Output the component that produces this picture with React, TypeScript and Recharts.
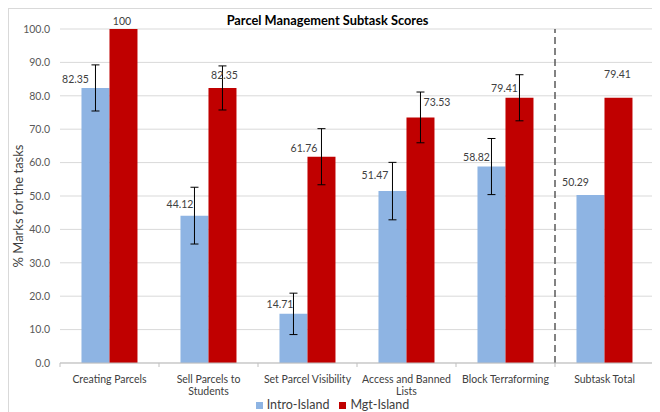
import React from 'react';
import {
  BarChart,
  Bar,
  XAxis,
  YAxis,
  CartesianGrid,
  ErrorBar,
  LabelList,
  Legend,
  ReferenceLine,
} from 'recharts';

const categories = [
  'Creating Parcels',
  'Sell Parcels to\nStudents',
  'Set Parcel Visibility',
  'Access and Banned\nLists',
  'Block Terraforming',
  'Subtask Total',
];
const introIsland = [82.35, 44.12, 14.71, 51.47, 58.82, 50.29];
const mgtIsland = [100, 82.35, 61.76, 73.53, 79.41, 79.41];
const introError = [6.9, 8.5, 6.2, 8.6, 8.4, null];
const mgtError = [0, 6.6, 8.4, 7.6, 6.9, null];
const yTicks = [0, 10, 20, 30, 40, 50, 60, 70, 80, 90, 100];

// label placement tweaks (relative to bar top-centre), as in the original chart
const introLabelShift = [
  [-20, -9],
  [-14.5, -11.5],
  [-13.5, -10],
  [-17.5, -16],
  [-15, -9.5],
  [-15, -13],
];
const mgtLabelShift = [
  [-1.5, -8],
  [2, -13],
  [-17.5, -9],
  [16.5, -15],
  [-15, -9.5],
  [-1, -24],
];

const FONT = 'Lato, "Open Sans", sans-serif';
const TEXT = '#404040';

const data = categories.map((c, i) => ({
  category: c,
  intro: introIsland[i],
  mgt: mgtIsland[i],
  introErr: introError[i],
  mgtErr: mgtError[i],
}));

const makeLabel = (shift: number[][]) => (props: any) => {
  const { x, y, width, value, index } = props;
  const s = shift[index] || [0, -10];
  return (
    <text
      x={Number(x) + Number(width) / 2 + s[0]}
      y={Number(y) + s[1]}
      textAnchor="middle"
      dominantBaseline="central"
      fontSize={10.5}
      fontFamily={FONT}
      fill={TEXT}
    >
      {String(value)}
    </text>
  );
};

const XTick = (props: any) => {
  const { x, y, payload, index, visibleTicksCount } = props;
  const half = payload && payload.offset ? payload.offset : 49.5;
  const lines = String(payload.value).split('\n');
  const last = index === (visibleTicksCount ?? categories.length) - 1;
  return (
    <g>
      <line x1={x - half} x2={x - half} y1={y} y2={y + 4} stroke="#BFBFBF" />
      {last && <line x1={x + half} x2={x + half} y1={y} y2={y + 4} stroke="#BFBFBF" />}
      <text textAnchor="middle" fontSize={10.5} fontFamily={FONT} fill={TEXT}>
        {lines.map((l, i) => (
          <tspan key={i} x={x} y={y + 20 + i * 12}>
            {l}
          </tspan>
        ))}
      </text>
    </g>
  );
};

const YLabel = (props: any) => {
  const vb = props.viewBox || { x: 0, y: 20, height: 334 };
  const cx = vb.x + 9;
  const cy = vb.y + vb.height / 2 + 10;
  return (
    <text
      x={cx}
      y={cy}
      transform={`rotate(-90 ${cx} ${cy})`}
      textAnchor="middle"
      dominantBaseline="central"
      fontSize={13}
      fontFamily={FONT}
      fill={TEXT}
    >
      % Marks for the tasks
    </text>
  );
};

export default function App() {
  return (
    <div
      style={{
        position: 'relative',
        width: 646,
        height: 403,
        borderTop: '1px solid #D9D9D9',
        borderLeft: '1px solid #D9D9D9',
        borderRight: '1px solid #D9D9D9',
        fontFamily: FONT,
      }}
    >
      <div
        style={{
          position: 'absolute',
          top: 3,
          left: 0,
          width: 637,
          textAlign: 'center',
          fontWeight: 700,
          fontSize: 12.8,
          color: '#000',
          fontFamily: FONT,
          zIndex: 2,
        }}
      >
        Parcel Management Subtask Scores
      </div>
      <BarChart
        width={646}
        height={402}
        data={data}
        margin={{ top: 20, right: 1, left: 0, bottom: 0 }}
        barCategoryGap="21.7%"
        barGap={0}
      >
        <CartesianGrid vertical={false} stroke="#D9D9D9" />
        <XAxis
          dataKey="category"
          height={36}
          interval={0}
          tickLine={false}
          tickSize={0}
          tickMargin={0}
          stroke="#BFBFBF"
          tick={<XTick />}
        />
        <YAxis
          width={51}
          domain={[0, 100]}
          ticks={yTicks}
          axisLine={false}
          tickLine={false}
          tickMargin={4}
          tickFormatter={(v: number) => v.toFixed(1)}
          tick={{ fontSize: 10.5, fill: '#595959', fontFamily: FONT }}
          label={{ content: <YLabel /> }}
        />
        <Legend
          verticalAlign="bottom"
          align="center"
          iconType="square"
          iconSize={7}
          formatter={(v: string) => (
            <span style={{ color: TEXT, fontSize: 12.5, fontFamily: FONT }}>{v}</span>
          )}
          wrapperStyle={{ height: 12, lineHeight: '12px', fontSize: 12.5, paddingLeft: 6, bottom: 0 }}
        />
        <ReferenceLine
          x={categories[5]}
          position="start"
          stroke="#595959"
          strokeWidth={1.5}
          strokeDasharray="7 4"
        />
        <Bar dataKey="intro" name="Intro-Island" fill="#8EB4E3" isAnimationActive={false}>
          <ErrorBar dataKey="introErr" width={4} stroke="#000" strokeWidth={1} />
          <LabelList dataKey="intro" content={makeLabel(introLabelShift)} />
        </Bar>
        <Bar dataKey="mgt" name="Mgt-Island" fill="#C00000" isAnimationActive={false}>
          <ErrorBar dataKey="mgtErr" width={4} stroke="#000" strokeWidth={1} />
          <LabelList dataKey="mgt" content={makeLabel(mgtLabelShift)} />
        </Bar>
      </BarChart>
    </div>
  );
}
